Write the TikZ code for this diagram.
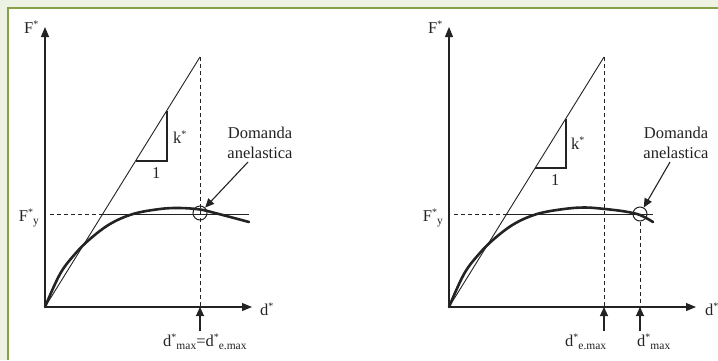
\documentclass[tikz,border=0pt]{standalone}
\usepackage{fontspec}
\setmainfont{Liberation Serif}
\usetikzlibrary{arrows.meta}

\definecolor{pagegreen}{RGB}{238,242,226}
\definecolor{framegreen}{RGB}{134,160,74}
\definecolor{ink}{RGB}{35,35,35}

\newcommand{\sstar}{\raisebox{6pt}{\fontsize{10}{10}\selectfont *}}
\newcommand{\lowtxt}[1]{\raisebox{-3pt}{\fontsize{11.5}{12}\selectfont #1}}

\begin{document}
\begin{tikzpicture}[x=1pt,y=-1pt,
    axis/.style={ink,line width=1.1pt,-{Triangle[length=10pt,width=8pt]}},
    guide/.style={ink,line width=1pt,dash pattern=on 4pt off 3pt},
    thin/.style={ink,line width=0.9pt},
    leg/.style={ink,line width=1.8pt},
    curve/.style={ink,line width=2.6pt,line cap=round},
    tick/.style={ink,line width=1.1pt,-{Triangle[length=9pt,width=8pt]}},
    lbl/.style={text=ink,font=\fontsize{16.5}{20}\selectfont,inner sep=0pt},
    ring/.style={circle,draw=ink,line width=1pt,minimum size=14pt,inner sep=0pt}]

\useasboundingbox (0,0) rectangle (718,360);
\fill[pagegreen] (0,0) rectangle (718,360);
\fill[white] (8,8) rectangle (718,360);
\draw[framegreen,line width=2.5pt] (8,360) -- (8,8) -- (718,8);

% left panel
\coordinate (OA) at (45,307);
\coordinate (yA) at (45,27);
\coordinate (xA) at (252,307);
\coordinate (topA) at (200,57);
\coordinate (emaxA) at (200,307);
\coordinate (tailA) at (200,331);

\draw[axis] (OA) -- (yA);
\draw[axis] (OA) -- (xA);
\draw[thin] (OA) -- (topA);
\draw[guide] (topA) -- (emaxA);
\draw[guide] (50,214) -- (102.7,214);
\draw[thin] (102.7,214) -- (249,214);
\draw[leg] (136,161) -- (167,161) -- (167,110.5);

\draw[curve] plot[smooth,tension=0.6] coordinates {(45,307) (60,274) (75,254) (90,239) (110,224) (133,214) (160,209) (180,208) (200,209.5) (215,213) (249,222)};

\node[ring] (circA) at (200,213) {};
\node[lbl,align=center] (domA) at (260,143) {Domanda\\anelastica};
\draw[tick] ([xshift=-12pt,yshift=-3pt]domA.south) -- (circA);
\draw[tick] (tailA) -- (emaxA);

\node[lbl,anchor=base west] (FA) at (24,33) {F\sstar};
\node[lbl,anchor=base west] (dA) at (260,315) {d\sstar};
\node[lbl,anchor=base east] (FyA) at (39,221) {F\sstar\lowtxt{y}};
\node[lbl,anchor=base west] (kA) at (173,143) {k\sstar};
\node[lbl,anchor=base west] (oneA) at (152,178) {1};
\node[lbl,anchor=base west] (dmaxA) at (163,346) {d\sstar\lowtxt{max}=d\sstar\lowtxt{e.max}};

% right panel
\coordinate (OB) at (449,307);
\coordinate (yB) at (449,27);
\coordinate (xB) at (696,307);
\coordinate (topB) at (604,57);
\coordinate (emaxB) at (604,307);
\coordinate (tailB) at (604,331);
\coordinate (maxB) at (640,307);
\coordinate (tailmB) at (640,331);

\draw[axis] (OB) -- (yB);
\draw[axis] (OB) -- (xB);
\draw[thin] (OB) -- (topB);
\draw[guide] (topB) -- (emaxB);
\draw[guide] (454,214) -- (506.7,214);
\draw[thin] (506.7,214) -- (653,214);
\draw[leg] (535,168) -- (566,168) -- (566,118.5);

\draw[curve] plot[smooth,tension=0.6] coordinates {(449,307) (464,274) (479,254) (494,239) (514,224) (537,214) (564,209) (585,207.5) (605,209) (625,211.5) (640,215) (653,222)};

\node[ring] (circB) at (640,214) {};
\draw[guide] (circB.south) -- (maxB);
\node[lbl,align=center] (domB) at (676,143) {Domanda\\anelastica};
\draw[tick] ([xshift=-6pt,yshift=-3pt]domB.south) -- (circB);
\draw[tick] (tailB) -- (emaxB);
\draw[tick] (tailmB) -- (maxB);

\node[lbl,anchor=base west] (FB) at (428,33) {F\sstar};
\node[lbl,anchor=base west] (dB) at (705,315) {d\sstar};
\node[lbl,anchor=base east] (FyB) at (443,221) {F\sstar\lowtxt{y}};
\node[lbl,anchor=base west] (kB) at (571,149) {k\sstar};
\node[lbl,anchor=base west] (oneB) at (551,185) {1};
\node[lbl,anchor=base west] (demaxB) at (565,346) {d\sstar\lowtxt{e.max}};
\node[lbl,anchor=base west] (dmaxB) at (637,346) {d\sstar\lowtxt{max}};

\end{tikzpicture}
\end{document}
